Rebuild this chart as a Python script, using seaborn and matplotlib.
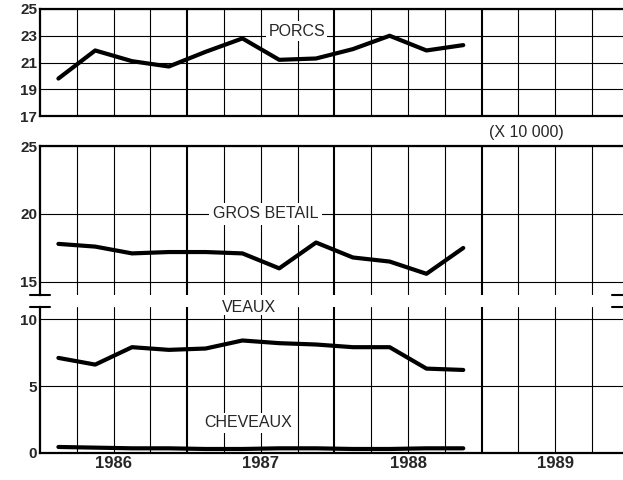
import numpy as np
import pandas as pd
import matplotlib
matplotlib.use("Agg")
import matplotlib.pyplot as plt
import seaborn as sns

# quarterly values, Q1 1986 .. Q4 1988 (x 10 000 head)
quarters = np.arange(12) + 0.5
porcs = [19.8, 21.9, 21.1, 20.7, 21.8, 22.8, 21.2, 21.3, 22.0, 23.0, 21.9, 22.3]
gros_betail = [17.8, 17.6, 17.1, 17.2, 17.2, 17.1, 16.0, 17.9, 16.8, 16.5, 15.6, 17.5]
veaux = [7.1, 6.6, 7.9, 7.7, 7.8, 8.4, 8.2, 8.1, 7.9, 7.9, 6.3, 6.2]
cheveaux = [0.45, 0.4, 0.35, 0.35, 0.3, 0.3, 0.35, 0.35, 0.3, 0.3, 0.35, 0.35]
years = ["1986", "1987", "1988", "1989"]

df = pd.DataFrame({"q": quarters, "porcs": porcs, "gros": gros_betail,
                   "veaux": veaux, "cheveaux": cheveaux})

sns.set_style("white")
plt.rcParams["font.family"] = ["Liberation Sans", "DejaVu Sans"]

fig = plt.figure(figsize=(6.23, 4.8), dpi=100)
W = 623.0
H = 480.0


def px_axes(left, top, right, bottom):
    return fig.add_axes([left / W, 1 - bottom / H, (right - left) / W, (bottom - top) / H])


ax1 = px_axes(40, 9, 623, 116)
ax2 = px_axes(40, 146, 623, 295)
ax3 = px_axes(40, 307, 623, 453)

XMAX = 15.84
LABEL_FS = 11.5


def style(ax, ylim, yticks, top=True, bottom=True):
    ax.set_xlim(0, XMAX)
    ax.set_ylim(*ylim)
    ax.set_yticks(yticks)
    ax.set_yticklabels([str(t) for t in yticks], fontweight="bold", fontsize=11)
    ax.tick_params(axis="y", length=0, pad=2)
    for q in range(1, 16):
        lw = 1.5 if q % 4 == 0 else 0.8
        ax.axvline(q, color="black", lw=lw, zorder=1)
    for t in yticks:
        ax.axhline(t, color="black", lw=0.8, zorder=1)
    for s in ["top", "bottom", "left", "right"]:
        ax.spines[s].set_visible(False)
    ax.spines["left"].set_visible(True)
    ax.spines["left"].set_linewidth(1.6)
    ax.spines["left"].set_color("black")
    if top:
        ax.spines["top"].set_visible(True)
        ax.spines["top"].set_linewidth(1.6)
        ax.spines["top"].set_color("black")
    if bottom:
        ax.spines["bottom"].set_visible(True)
        ax.spines["bottom"].set_linewidth(1.6)
        ax.spines["bottom"].set_color("black")
    ax.set_xlabel("")
    ax.set_ylabel("")


kw = dict(color="black", linewidth=3.0, zorder=3)
box = dict(facecolor="white", edgecolor="none", pad=1.5)

sns.lineplot(data=df, x="q", y="porcs", ax=ax1, **kw)
style(ax1, (17, 25), [17, 19, 21, 23, 25])
ax1.set_xticks([])
ax1.text(6.98, 23.35, "PORCS", ha="center", va="center", fontsize=LABEL_FS, bbox=box, zorder=4)

sns.lineplot(data=df, x="q", y="gros", ax=ax2, **kw)
style(ax2, (14.04, 25), [15, 20, 25], bottom=False)
ax2.set_xticks([])
ax2.text(6.13, 20, "GROS BETAIL", ha="center", va="center", fontsize=LABEL_FS,
         bbox=dict(facecolor="white", edgecolor="none", pad=2.5), zorder=4)

sns.lineplot(data=df, x="q", y="veaux", ax=ax3, **kw)
sns.lineplot(data=df, x="q", y="cheveaux", ax=ax3, **kw)
style(ax3, (0, 10.9), [0, 5, 10], top=False)
ax3.set_xticks([4, 8, 12])
ax3.set_xticklabels([])
ax3.tick_params(axis="x", which="major", direction="out", length=16, width=1.5, color="black")
ax3.set_xticks([2, 6, 10, 14], minor=True)
ax3.set_xticklabels(years, minor=True, fontweight="bold", fontsize=12)
ax3.tick_params(axis="x", which="minor", length=0, pad=2)
ax3.text(5.65, 2.24, "CHEVEAUX", ha="center", va="center", fontsize=LABEL_FS, bbox=box, zorder=4)

fig.text(249 / W, 1 - 307 / H, "VEAUX", ha="center", va="center", fontsize=LABEL_FS,
         bbox=dict(facecolor="white", edgecolor="none", pad=0.5))
fig.text(526 / W, 1 - 132 / H, "(X 10 000)", ha="center", va="center", fontsize=LABEL_FS)

# axis break marks
for y in (295, 307):
    fig.add_artist(plt.Line2D([30 / W, 50 / W], [1 - y / H, 1 - y / H], color="black", lw=1.5))
    fig.add_artist(plt.Line2D([612 / W, 623 / W], [1 - y / H, 1 - y / H], color="black", lw=1.5))

fig.savefig("out.png", dpi=100, facecolor="white")
